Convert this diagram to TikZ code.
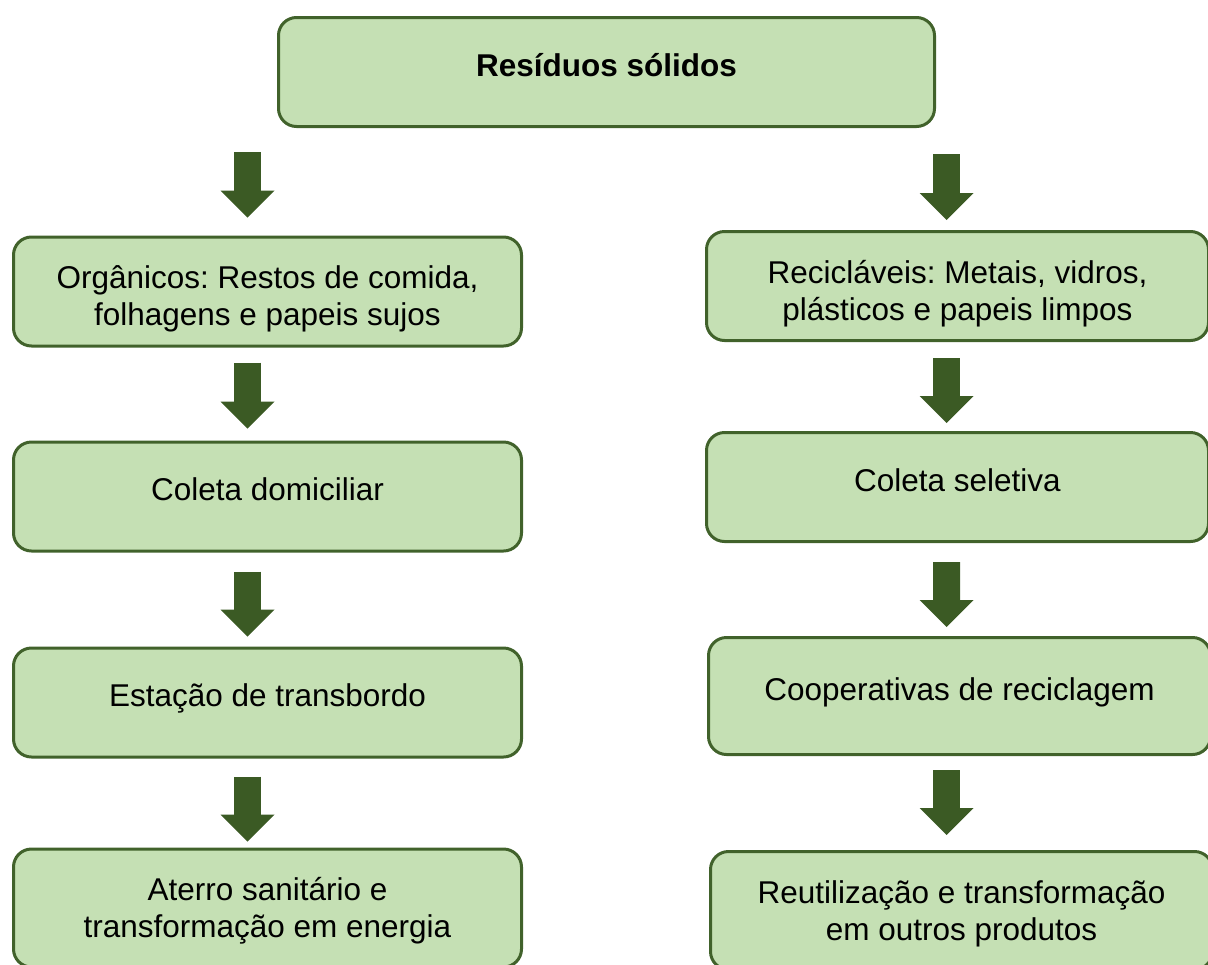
\documentclass[tikz,border=0pt]{standalone}
\usepackage{fontspec}
\setmainfont{Liberation Sans}
\usetikzlibrary{positioning,arrows.meta,calc}

\definecolor{verdeclaro}{HTML}{C5E0B4}
\definecolor{verdeborda}{HTML}{41622B}
\definecolor{verdeseta}{HTML}{3B5A24}

\begin{document}
\frenchspacing
\begin{tikzpicture}[caixa/.style={draw=verdeborda,fill=verdeclaro,line width=0.075cm,rounded corners=0.45cm,minimum width=12.7cm,minimum height=2.725cm,align=center,font=\fontsize{22.4}{26.3}\selectfont,text height=0.55cm,text depth=0.35cm},
		duaslinhas/.style={text height=1.8cm,text depth=0.1cm},
		seta/.style={draw=verdeseta,line width=0.675cm,-{Triangle[width=1.35cm,length=0.675cm,line width=0pt]}}]
		\path[use as bounding box,clip] (0,0) rectangle (30.2,-24.1);

		\node[caixa,minimum width=16.4cm,font=\fontsize{22.4}{26.3}\selectfont\bfseries]		(1)	at (15.1625,-1.8)	{Resíduos sólidos};
		\node[caixa,duaslinhas]															(2)	at (6.6875,-7.2875)	{Orgânicos: Restos de comida,\\folhagens e papeis sujos};
		\node[caixa,node distance=2.325cm,below=of 2]										(3)		{Coleta domiciliar};
		\node[caixa,node distance=2.35cm,below=of 3]										(4)		{Estação de transbordo};
		\node[caixa,duaslinhas,minimum height=2.95cm,text height=1.575cm,node distance=2.225cm,below=of 4]	(5)		{Aterro sanitário e\\transformação em energia};
		\node[caixa,duaslinhas,minimum width=12.55cm]										(6)	at (23.9375,-7.15)	{Recicláveis: Metais, vidros,\\plásticos e papeis limpos};
		\node[caixa,minimum width=12.55cm,node distance=2.225cm,below=of 6]					(7)		{Coleta seletiva};
		\node[caixa,minimum width=12.55cm,minimum height=2.925cm,node distance=2.325cm,below=of 7,xshift=0.05cm]	(8)		{Cooperativas de reciclagem};
		\node[caixa,duaslinhas,minimum width=12.55cm,minimum height=2.95cm,text height=1.575cm,node distance=2.35cm,below=of 8,xshift=0.05cm]	(9)		{Reutilização e transformação\\em outros produtos};

		\draw[seta] ($(1.south -| 2.north)+(-0.5,-0.6)$) -- ([xshift=-0.5cm,yshift=0.45cm]2.north);
		\draw[seta] ([xshift=-0.5cm,yshift=-0.375cm]2.south) -- ([xshift=-0.5cm,yshift=0.3cm]3.north);
		\draw[seta] ([xshift=-0.5cm,yshift=-0.475cm]3.south) -- ([xshift=-0.5cm,yshift=0.25cm]4.north);
		\draw[seta] ([xshift=-0.5cm,yshift=-0.45cm]4.south) -- ([xshift=-0.5cm,yshift=0.15cm]5.north);
		\draw[seta] ($(1.south -| 6.north)+(-0.275,-0.65)$) -- ([xshift=-0.275cm,yshift=0.25cm]6.north);
		\draw[seta] ([xshift=-0.275cm,yshift=-0.4cm]6.south) -- ([xshift=-0.275cm,yshift=0.2cm]7.north);
		\draw[seta] ([xshift=-0.275cm,yshift=-0.475cm]7.south) -- ([xshift=-0.325cm,yshift=0.225cm]8.north);
		\draw[seta] ([xshift=-0.325cm,yshift=-0.35cm]8.south) -- ([xshift=-0.375cm,yshift=0.375cm]9.north);
	\end{tikzpicture}
\end{document}
